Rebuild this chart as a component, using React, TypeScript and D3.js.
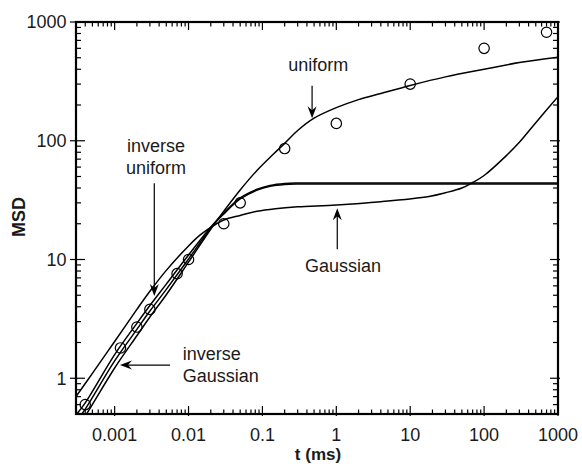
import React from "react";
import * as d3 from "d3";

// Measured mean squared displacement (open circles)
const obsT = [0.0004, 0.0012, 0.002, 0.003, 0.007, 0.01, 0.03, 0.05, 0.2, 1, 10, 100, 700];
const obsMSD = [0.6, 1.8, 2.7, 3.8, 7.6, 10, 20, 30, 86, 140, 300, 600, 820];

// Model curves
const uniformT = [0.0003, 0.0004, 0.001, 0.002, 0.003, 0.005, 0.01, 0.0207, 0.03, 0.05, 0.085, 0.14, 0.2, 0.3, 0.5, 1, 2, 4, 10, 30, 100, 300, 1000];
const uniformMSD = [0.37, 0.48, 1.22, 2.28, 3.28, 5.05, 9.5, 18.6, 25.5, 38.5, 56.5, 77, 95, 122, 155, 190, 222, 250, 292, 345, 400, 455, 505];

const invUniformT = [0.0003, 0.0004, 0.001, 0.002, 0.003, 0.005, 0.01, 0.0207, 0.03, 0.05, 0.085, 0.127, 0.2, 0.3, 0.5, 10, 1000];
const invUniformMSD = [0.49, 0.62, 1.58, 2.9, 4.1, 6.2, 10.9, 19.2, 24.6, 33, 39, 42, 43.6, 44, 44, 44, 44];

const invGaussianT = [0.0003, 0.0004, 0.001, 0.002, 0.003, 0.005, 0.01, 0.0207, 0.03, 0.05, 0.085, 0.127, 0.2, 0.3, 0.5, 10, 1000];
const invGaussianMSD = [0.43, 0.55, 1.4, 2.58, 3.68, 5.6, 10.1, 18.9, 24.2, 32.4, 38.4, 41.3, 42.8, 43.2, 43.2, 43.2, 43.2];

const gaussianT = [0.0003, 0.0005, 0.001, 0.002, 0.003, 0.005, 0.01, 0.0144, 0.0207, 0.03, 0.05, 0.085, 0.15, 0.3, 1, 4, 18, 30, 50, 70, 100, 200, 300, 500, 1000];
const gaussianMSD = [0.7, 1.1, 2.04, 3.8, 5.4, 8.1, 13.0, 16.1, 18.9, 21.5, 23.5, 25.5, 26.8, 27.8, 28.8, 30.7, 34, 36.5, 40, 44.5, 51, 75, 97, 142, 235];

// Axes
const X_DOMAIN = [0.0003, 1000];
const Y_DOMAIN = [0.5, 1000];
const X_TICKS = [0.001, 0.01, 0.1, 1, 10, 100, 1000];
const X_TICK_LABELS = ["0.001", "0.01", "0.1", "1", "10", "100", "1000"];
const Y_TICKS = [1, 10, 100, 1000];
const Y_TICK_LABELS = ["1", "10", "100", "1000"];

const W = 582;
const H = 464;
const L = 76, R = 558, T = 22, B = 414;
const FONT = "'Liberation Sans', Arial, Helvetica, sans-serif";

export default function App() {
  const x = d3.scaleLog().domain(X_DOMAIN).range([L, R]);
  const y = d3.scaleLog().domain(Y_DOMAIN).range([B, T]);

  const line = d3
    .line<[number, number]>()
    .x((d) => x(d[0]))
    .y((d) => y(d[1]))
    .curve(d3.curveCatmullRom.alpha(0.5));

  const zip = (ts: number[], vs: number[]) => ts.map((t, i) => [t, vs[i]] as [number, number]);
  const curves = [
    zip(gaussianT, gaussianMSD),
    zip(invUniformT, invUniformMSD),
    zip(invGaussianT, invGaussianMSD),
    zip(uniformT, uniformMSD),
  ];

  // minor ticks
  const xMinor: number[] = [];
  for (let e = -4; e <= 2; e++) {
    for (let m = 2; m <= 9; m++) {
      const v = m * Math.pow(10, e);
      if (v > X_DOMAIN[0] * 1.01 && v < X_DOMAIN[1] * 0.99) xMinor.push(v);
    }
  }
  const yMinor: number[] = [];
  for (let e = -1; e <= 2; e++) {
    for (let m = 2; m <= 9; m++) {
      const v = m * Math.pow(10, e);
      if (v > Y_DOMAIN[0] * 1.01 && v < Y_DOMAIN[1] * 0.99) yMinor.push(v);
    }
  }

  const arrowDown = (px: number, tip: number) =>
    `M${px},${tip} L${px - 4.5},${tip - 12} L${px},${tip - 8} L${px + 4.5},${tip - 12} Z`;
  const arrowUp = (px: number, tip: number) =>
    `M${px},${tip} L${px - 4.5},${tip + 12} L${px},${tip + 8} L${px + 4.5},${tip + 12} Z`;
  const arrowLeft = (tip: number, py: number) =>
    `M${tip},${py} L${tip + 12},${py - 4.5} L${tip + 8},${py} L${tip + 12},${py + 4.5} Z`;

  // annotation anchors in data units
  const uArrowX = x(0.47), uArrowY0 = y(290), uArrowY1 = y(155);
  const iuArrowX = x(0.00344), iuArrowY0 = y(43.8), iuArrowY1 = y(4.93);
  const gArrowX = x(1.03), gArrowY0 = y(12.2), gArrowY1 = y(27);
  const igArrowY = y(1.29), igArrowX0 = x(0.00561), igArrowX1 = x(0.00118);

  const textStyle = { fontFamily: FONT, fontSize: 18, fill: "#1a1a1a" } as const;

  return (
    <svg
      width={W}
      height={H}
      style={{ position: "absolute", left: 0, top: 0, background: "#fff" }}
    >
      <defs>
        <clipPath id="plot">
          <rect x={L} y={T} width={R - L} height={B - T} />
        </clipPath>
      </defs>
      <rect x={0} y={0} width={W} height={H} fill="#fff" />

      <g clipPath="url(#plot)">
        {curves.map((c, i) => (
          <path key={i} d={line(c) || ""} fill="none" stroke="#000" strokeWidth={1.5} />
        ))}
        {obsT.map((t, i) => (
          <circle key={i} cx={x(t)} cy={y(obsMSD[i])} r={5.2} fill="none" stroke="#000" strokeWidth={1.2} />
        ))}
      </g>

      {/* ticks */}
      <g stroke="#000" strokeWidth={1.2}>
        {X_TICKS.map((t) => (
          <g key={"xt" + t}>
            <line x1={x(t)} x2={x(t)} y1={B + 2} y2={B - 8} />
            <line x1={x(t)} x2={x(t)} y1={T} y2={T + 8} />
          </g>
        ))}
        {xMinor.map((t) => (
          <g key={"xm" + t}>
            <line x1={x(t)} x2={x(t)} y1={B} y2={B - 4.5} />
            <line x1={x(t)} x2={x(t)} y1={T} y2={T + 4.5} />
          </g>
        ))}
        {Y_TICKS.map((v) => (
          <g key={"yt" + v}>
            <line x1={L - 6} x2={L + 9} y1={y(v)} y2={y(v)} />
            <line x1={R + 2} x2={R - 8} y1={y(v)} y2={y(v)} />
          </g>
        ))}
        {yMinor.map((v) => (
          <g key={"ym" + v}>
            <line x1={L} x2={L + 5} y1={y(v)} y2={y(v)} />
            <line x1={R} x2={R - 5} y1={y(v)} y2={y(v)} />
          </g>
        ))}
      </g>

      {/* frame */}
      <rect x={L} y={T} width={R - L} height={B - T} fill="none" stroke="#000" strokeWidth={2.2} />

      {/* tick labels */}
      {X_TICKS.map((t, i) => (
        <text key={"xl" + t} x={x(t)} y={440.5} textAnchor="middle" style={textStyle}>
          {X_TICK_LABELS[i]}
        </text>
      ))}
      {Y_TICKS.map((v, i) => (
        <text key={"yl" + v} x={66.5} y={y(v) + 6.4} textAnchor="end" style={textStyle}>
          {Y_TICK_LABELS[i]}
        </text>
      ))}

      {/* axis titles */}
      <text
        transform={`translate(25, ${(T + B) / 2 - 1}) rotate(-90)`}
        textAnchor="middle"
        style={{ ...textStyle, fontWeight: "bold" }}
      >
        MSD
      </text>
      <text x={(L + R) / 2 + 1} y={460.2} textAnchor="middle" style={{ ...textStyle, fontSize: 17, fontWeight: "bold" }}>
        t (ms)
      </text>

      {/* annotations */}
      <g stroke="#000" strokeWidth={1.2}>
        <line x1={uArrowX} x2={uArrowX} y1={uArrowY0} y2={uArrowY1 - 6} />
        <line x1={iuArrowX} x2={iuArrowX} y1={iuArrowY0} y2={iuArrowY1 - 6} />
        <line x1={gArrowX} x2={gArrowX} y1={gArrowY0} y2={gArrowY1 + 6} />
        <line x1={igArrowX0} x2={igArrowX1 + 6} y1={igArrowY} y2={igArrowY} />
      </g>
      <g fill="#000">
        <path d={arrowDown(uArrowX, uArrowY1)} />
        <path d={arrowDown(iuArrowX, iuArrowY1)} />
        <path d={arrowUp(gArrowX, gArrowY1)} />
        <path d={arrowLeft(igArrowX1, igArrowY)} />
      </g>

      <text x={x(0.57)} y={y(385)} textAnchor="middle" style={textStyle}>uniform</text>
      <text x={x(0.00363)} y={y(80.9)} textAnchor="middle" style={textStyle}>inverse</text>
      <text x={x(0.00363)} y={y(52.5)} textAnchor="middle" style={textStyle}>uniform</text>
      <text x={x(1.23)} y={y(7.8)} textAnchor="middle" style={textStyle}>Gaussian</text>
      <text x={x(0.00834)} y={y(1.42)} textAnchor="start" style={textStyle}>inverse</text>
      <text x={x(0.00834)} y={y(1.42) + 22.3} textAnchor="start" style={textStyle}>Gaussian</text>
    </svg>
  );
}
